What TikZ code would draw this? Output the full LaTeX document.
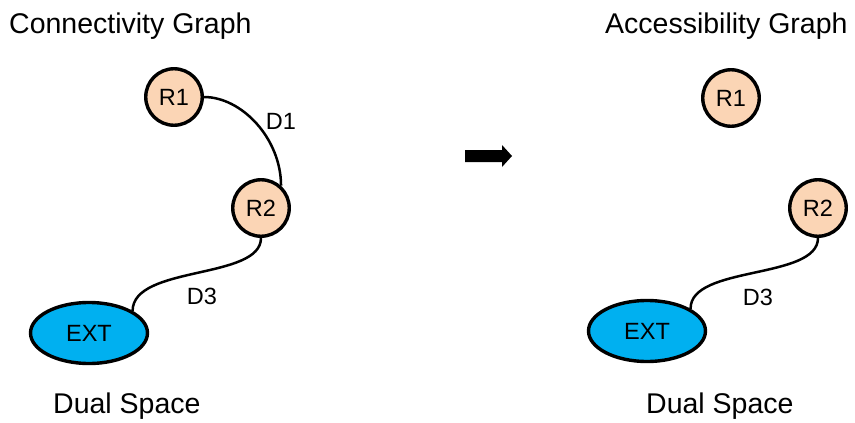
\documentclass[tikz,border=0pt]{standalone}
\usepackage{fontspec}
\setmainfont{Liberation Sans}
\usetikzlibrary{shapes.geometric}
\definecolor{peach}{HTML}{FBD5B5}
\definecolor{extblue}{HTML}{00B0F0}
\tikzset{
  room/.style={circle, draw=black, line width=3.4pt, fill=peach, minimum size=56.5pt, inner sep=0pt,
    font=\fontsize{23.5}{28}\selectfont},
  extnode/.style={ellipse, draw=black, line width=3.4pt, fill=extblue, minimum width=117pt, minimum height=61pt, inner sep=0pt,
    font=\fontsize{23.5}{28}\selectfont},
  door/.style={draw=black, line width=2.5pt},
  doorlabel/.style={inner sep=0pt, font=\fontsize{23.5}{28}\selectfont},
  title/.style={inner sep=0pt, anchor=base west, font=\fontsize{28.5}{34}\selectfont}
}
\begin{document}
\begin{tikzpicture}[x=1pt, y=-1pt]
\useasboundingbox (0,0) rectangle (855,423);
% titles
\node[title] (t1) at (9,33) {Connectivity Graph};
\node[title] (t2) at (605,33) {Accessibility Graph};
\node[title] (d1s) at (53,413) {Dual Space};
\node[title] (d2s) at (646,413) {Dual Space};
% left graph
\node[room] (R1) at (174,97) {R1};
\node[room] (R2) at (261,208) {R2};
\node[extnode] (EXT) at (89,333) {EXT};
\draw[door] (R1.east) .. controls +(38,0) and +(0,-47) .. (R2.48);
\draw[door] (EXT.27) .. controls (133,265) and (261,280) .. (R2.south);
\node[doorlabel] (lD1) at (281,121) {D1};
\node[doorlabel] (lD3) at (202,296) {D3};
% arrow
\fill[black] (465,150) -- (502,150) -- (502,145) -- (512,156) -- (502,167) -- (502,162) -- (465,162) -- cycle;
% right graph
\node[room] (S1) at (731,98) {R1};
\node[room] (S2) at (818,208) {R2};
\node[extnode] (EXT2) at (647,331) {EXT};
\draw[door] (EXT2.27) .. controls (690,265) and (818,280) .. (S2.south);
\node[doorlabel] (rD3) at (758,297) {D3};
\end{tikzpicture}
\end{document}
